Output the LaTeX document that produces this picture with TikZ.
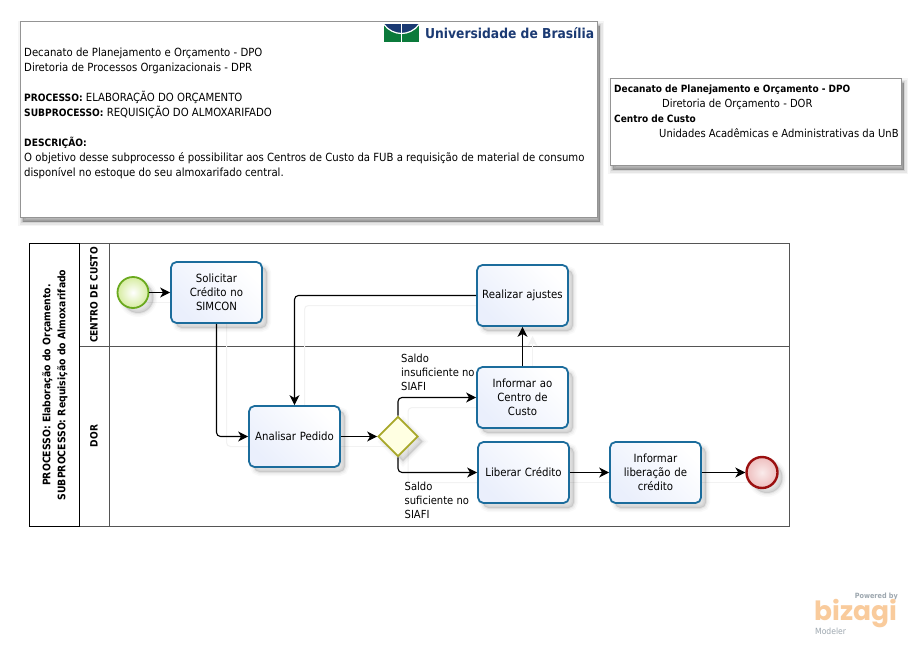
\documentclass[tikz,border=0pt]{standalone}
\usepackage{fontspec}
\setmainfont{DejaVu Sans Condensed}[BoldFeatures={Scale=0.9}]
\newfontfamily\bizfont{Poppins}
\usetikzlibrary{arrows.meta,shapes.geometric,calc}
\definecolor{taskline}{HTML}{1B6C9C}
\definecolor{taskfill}{HTML}{EAEFFC}
\definecolor{poolline}{HTML}{555555}
\definecolor{unbblue}{HTML}{1B3A73}
\definecolor{unbgreen}{HTML}{0B7A3B}
\definecolor{bizorange}{HTML}{F9CB9C}
\definecolor{bizgrey}{HTML}{9DA7AF}
\definecolor{startline}{HTML}{6AA91E}
\definecolor{startfill}{HTML}{D6ECA0}
\definecolor{endline}{HTML}{9B1010}
\definecolor{gateline}{HTML}{A8A82A}
\definecolor{gatefill}{HTML}{FFFFE2}
\tikzset{
  softshadow/.style n args={2}{
    preaction={fill=black,opacity=.025,draw=black,line width=8pt,transform canvas={shift={(#1,#2)}}},
    preaction={fill=black,opacity=.035,draw=black,line width=5pt,transform canvas={shift={(#1,#2)}}},
    preaction={fill=black,opacity=.05,draw=black,line width=2pt,transform canvas={shift={(#1,#2)}}}
  },
  taskbox/.style={draw=taskline,line width=1.8pt,rounded corners=5.5pt,minimum width=91pt,minimum height=61pt,
    left color=white,right color=taskfill,shading angle=-45,align=center,inner sep=0pt,text width=86pt,
    font=\fontsize{11.3}{14}\selectfont,softshadow={5pt}{-5pt}},
  notebox/.style={draw=black!42,line width=1pt,fill=white,
    preaction={fill=black,opacity=.04,draw=black,line width=9pt,transform canvas={shift={(2pt,-4pt)}}},
    preaction={fill=black,opacity=.06,draw=black,line width=6pt,transform canvas={shift={(2pt,-4pt)}}},
    preaction={fill=black,opacity=.08,draw=black,line width=3pt,transform canvas={shift={(2pt,-4pt)}}},
    preaction={fill=black,opacity=.10,draw=black,line width=.5pt,transform canvas={shift={(2pt,-4pt)}}}},
  notetext/.style={align=left,anchor=north west,inner sep=0pt,font=\fontsize{11.26}{15}\selectfont},
  lbl/.style={align=left,anchor=west,inner sep=0pt,font=\fontsize{11.1}{14}\selectfont},
  lanetitle/.style={rotate=90,inner sep=0pt,align=center,font=\bfseries\fontsize{11.5}{15}\selectfont},
  conn/.style={draw=black,line width=1.1pt,rounded corners=4pt,-{Stealth[length=10pt,width=10pt,inset=3pt]}},
  ghost/.style={draw=black!5,line width=1pt,rounded corners=4pt,transform canvas={shift={(10pt,-10pt)}},
    -{Stealth[length=10pt,width=10pt,inset=3pt]}},
  x=1pt,y=-1pt
}
\begin{document}
\begin{tikzpicture}
\useasboundingbox (0,0) rectangle (921,645);
\fill[white] (0,0) rectangle (921,645);
% top note boxes
\path[notebox] (20.5,21.5) rectangle (597.5,217.5);
\path[notebox] (610.5,78.5) rectangle (901.5,165.5);
\node[notetext] (desc) at (24,48) {Decanato de Planejamento e Orçamento - DPO\\
Diretoria de Processos Organizacionais - DPR\\[15pt]
\textbf{PROCESSO:} ELABORAÇÃO DO ORÇAMENTO\\
\textbf{SUBPROCESSO:} REQUISIÇÃO DO ALMOXARIFADO\\[15pt]
\textbf{DESCRIÇÃO:}\\
O objetivo desse subprocesso é possibilitar aos Centros de Custo da FUB a requisição de material de consumo\\
disponível no estoque do seu almoxarifado central.};
\node[notetext,font=\fontsize{11.1}{15}\selectfont] (owner) at (614,85) {\textbf{Decanato de Planejamento e Orçamento - DPO}\\
\hspace{48pt}Diretoria de Orçamento - DOR\\
\textbf{Centro de Custo}\\
\hspace{45pt}Unidades Acadêmicas e Administrativas da UnB};
% logo
\fill[unbgreen] (384,24) rectangle (419,42);
\fill[unbblue] (384,24) -- (419,24) .. controls (410,36) and (393,36) .. (384,24) -- cycle;
\draw[white,line width=1.2pt] (384,24.5) .. controls (393,36.5) and (410,36.5) .. (419,24.5);
\fill[white] (401,24) rectangle (402.2,42);
\node[anchor=west,inner sep=0pt,text=unbblue,font=\bfseries\fontsize{15.2}{16}\selectfont] (unb) at (425,33) {Universidade de Brasília};
% pool
\draw[poolline,line width=1.2pt] (79.5,243.5) rectangle (789.5,526.5);
\draw[poolline,line width=1.2pt] (109.5,243.5) -- (109.5,526.5);
\draw[poolline,line width=1.2pt] (79.5,346.5) -- (789.5,346.5);
\draw[black,line width=1.2pt] (29.5,243.5) rectangle (79.5,526.5);
\node[lanetitle] (ptitle) at (55,385) {PROCESSO: Elaboração do Orçamento.\\SUBPROCESSO: Requisição do Almoxarifado};
\node[lanetitle,font=\bfseries\fontsize{11.2}{15}\selectfont] (lane1) at (94,295) {CENTRO DE CUSTO};
\node[lanetitle,font=\bfseries\fontsize{11.2}{15}\selectfont] (lane2) at (94,436) {DOR};
% connector shadows (faint), coordinates declared first
\path (133,292.5) coordinate (startc) (216.5,292.5) coordinate (solc) (294.5,436.5) coordinate (anac)
  (522.5,295.5) coordinate (ajuc) (522.5,397.5) coordinate (infc) (523.5,472.5) coordinate (libc)
  (655.5,472.5) coordinate (ilbc) (398,436.5) coordinate (gatc) (762,472.5) coordinate (endc);
\draw[ghost] (startc) -- (solc);
\draw[ghost] (solc) |- (anac);
\draw[ghost] (ajuc) -| (anac);
\draw[ghost] (anac) -- (gatc);
\draw[ghost] (gatc) |- (infc);
\draw[ghost] (gatc) |- (libc);
\draw[ghost,shorten >=30.5pt] (infc) -- (ajuc);
\draw[ghost] (libc) -- (ilbc);
\draw[ghost] (ilbc) -- (endc);
% elements
\node[circle,minimum size=31pt,inner sep=0pt,draw=startline,line width=1.8pt,
  inner color=white,outer color=startfill,softshadow={5pt}{-5pt}] (start) at (startc) {};
\node[taskbox] (solicitar) at (solc) {Solicitar\\Crédito no\\SIMCON};
\node[taskbox] (analisar) at (anac) {Analisar Pedido};
\node[taskbox] (ajustes) at (ajuc) {Realizar ajustes};
\node[taskbox] (informar) at (infc) {Informar ao\\Centro de\\Custo};
\node[taskbox] (liberar) at (libc) {Liberar Crédito};
\node[taskbox] (infolib) at (ilbc) {Informar\\liberação de\\crédito};
\node[diamond,draw=gateline,line width=1.8pt,fill=gatefill,minimum size=40pt,inner sep=0pt,aspect=1,softshadow={5pt}{-5pt}] (gate) at (gatc) {};
\node[circle,minimum size=31pt,inner sep=0pt,draw=endline,line width=2.4pt,
  inner color={rgb,255:red,250;green,235;blue,235},outer color={rgb,255:red,238;green,190;blue,190},softshadow={5pt}{-5pt}] (end) at (endc) {};
% connectors
\draw[conn] (start.east) -- (solicitar.west);
\draw[conn] (solicitar.south) |- (analisar.west);
\draw[conn] (ajustes.west) -| (analisar.north);
\draw[conn] (analisar.east) -- (gate.west);
\draw[conn] (gate.north) |- (informar.west);
\draw[conn] (gate.south) |- (liberar.west);
\draw[conn] (informar.north) -- (ajustes.south);
\draw[conn] (liberar.east) -- (infolib.west);
\draw[conn] (infolib.east) -- (end.west);
% labels
\node[lbl] (l1) at (401,372) {Saldo\\insuficiente no\\SIAFI};
\node[lbl] (l2) at (404.5,500) {Saldo\\suficiente no\\SIAFI};
% bizagi
\node[inner sep=0pt,anchor=east,text=bizgrey,font=\bfseries\fontsize{8}{8}\selectfont] (pw) at (898,597) {Powered by};
\node[inner sep=0pt,anchor=base west,text=bizorange,font=\bizfont\bfseries\fontsize{26.5}{30}\selectfont] (biz) at (814,620) {bizagi};
\node[inner sep=0pt,anchor=base west,text=bizgrey,font=\fontsize{8.5}{9}\selectfont] (mod) at (815,634) {Modeler};
\end{tikzpicture}
\end{document}
